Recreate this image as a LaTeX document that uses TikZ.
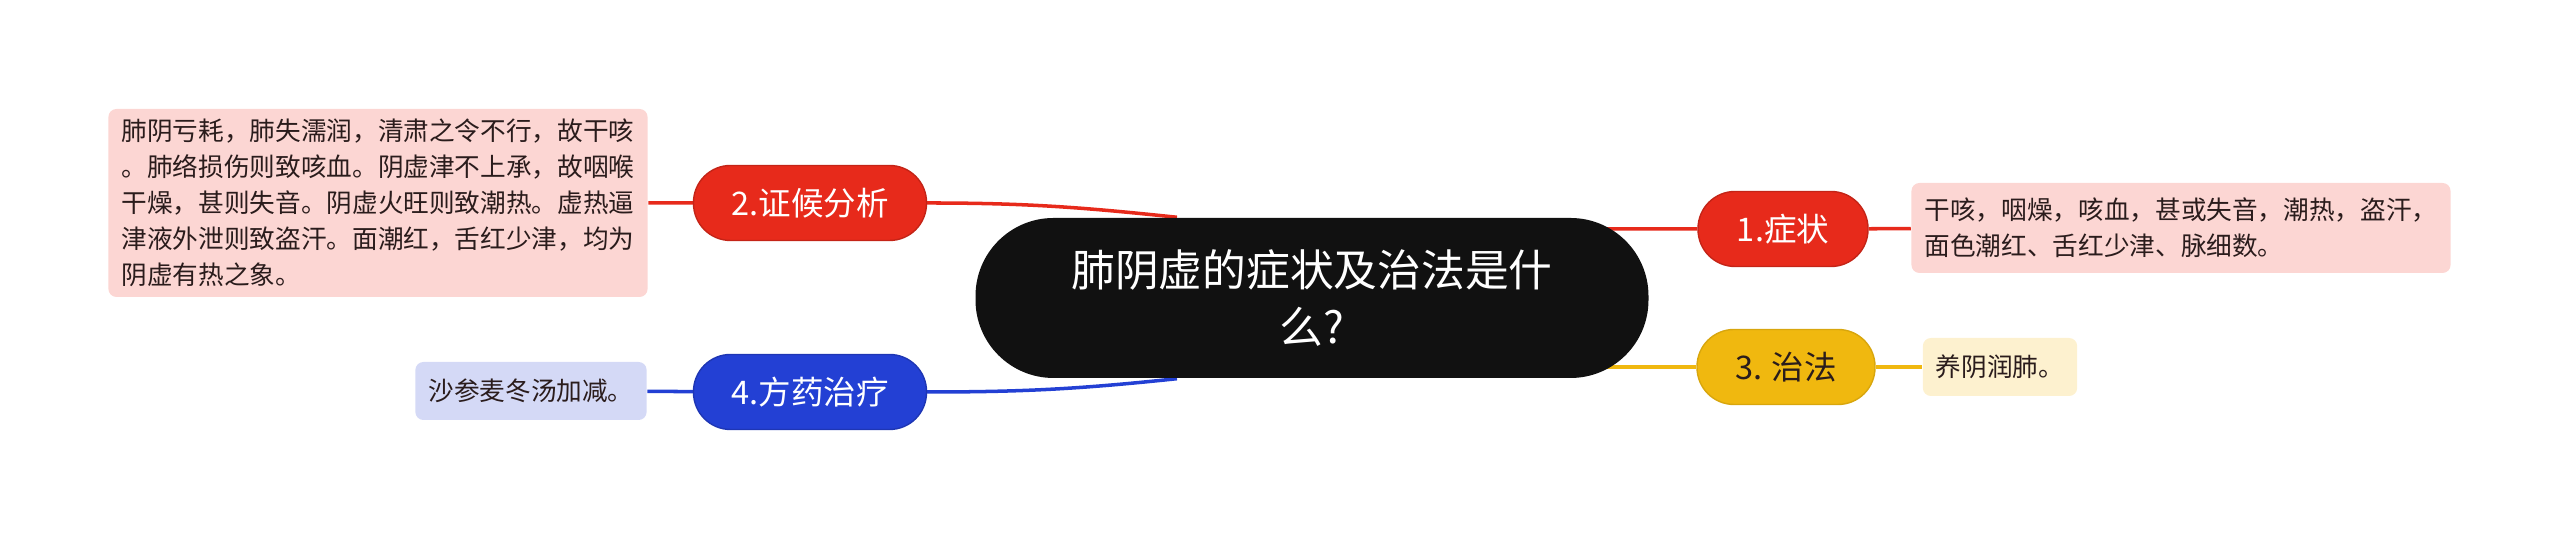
\documentclass[tikz,border=0pt]{standalone}
\usepackage{fontspec}
\setmainfont{Noto Sans CJK SC}
\usepackage{xcolor}
\usetikzlibrary{calc, positioning, backgrounds}

\definecolor{rootblack}{HTML}{111111}
\definecolor{symred}{HTML}{E72A1B}
\definecolor{sympink}{HTML}{FCD6D3}
\definecolor{cureyellow}{HTML}{F0B80F}
\definecolor{curecream}{HTML}{FDF1CF}
\definecolor{rxblue}{HTML}{2340D4}
\definecolor{rxlilac}{HTML}{D4D9F6}
\definecolor{leafink}{HTML}{2A1C1C}

\tikzset{
    topic/.style={fill=rootblack, text=white, rounded corners=0.78cm, minimum width=6.73cm, minimum height=1.6cm, inner sep=0pt, align=center, font=\fontsize{12.45}{16.2}\selectfont},
    branch/.style={rounded corners=0.37cm, minimum height=0.75cm, inner sep=0pt, line width=0.4pt, font=\fontsize{9.25}{11}\selectfont},
    leaf/.style={rounded corners=0.08cm, inner xsep=0.13cm, inner ysep=0.1cm, align=left, text=leafink, font=\fontsize{7.3}{10.24}\selectfont},
    link/.style={line width=1pt}
}

\begin{document}
\begin{tikzpicture}
                        \useasboundingbox (0, 0) rectangle (25.6, 5.41);
                        \node[topic] (root) at (13.12, 2.43) {肺阴虚的症状及治法是什\\么?};
                        \node[branch, fill=symred, draw=symred!85!black, text=white, minimum width=1.7cm] (sym) at (17.83, 3.12) {1.症状};
                        \node[branch, fill=symred, draw=symred!85!black, text=white, minimum width=2.33cm] (why) at (8.1, 3.38) {2.证候分析};
                        \node[branch, fill=cureyellow, draw=cureyellow!90!black, text=leafink, minimum width=1.78cm] (cure) at (17.86, 1.74) {3. 治法};
                        \node[branch, fill=rxblue, draw=rxblue!85!black, text=white, minimum width=2.33cm] (rx) at (8.1, 1.49) {4.方药治疗};
                        \node[leaf, fill=sympink, minimum width=5.36cm, minimum height=0.9cm] (symtext) at (21.81, 3.13) {干咳，咽燥，咳血，甚或失音，潮热，盗汗，\\面色潮红、舌红少津、脉细数。};
                        \node[leaf, fill=sympink, minimum width=5.38cm, minimum height=1.88cm] (whytext) at (3.78, 3.38) {肺阴亏耗，肺失濡润，清肃之令不行，故干咳\\。肺络损伤则致咳血。阴虚津不上承，故咽喉\\干燥，甚则失音。阴虚火旺则致潮热。虚热逼\\津液外泄则致盗汗。面潮红，舌红少津，均为\\阴虚有热之象。};
                        \node[leaf, fill=curecream, minimum width=1.54cm, minimum height=0.58cm] (curetext) at (20.0, 1.74) {养阴润肺。};
                        \node[leaf, fill=rxlilac, minimum width=2.31cm, minimum height=0.58cm] (rxtext) at (5.31, 1.5) {沙参麦冬汤加减。};
                        \coordinate (whyend) at ($(root.north)+(-1.35, 0)$);
                        \coordinate (rxend) at ($(root.south)+(-1.35, 0)$);
                        \begin{scope}[on background layer]
                        \draw[link, symred]
                        (root.center |- sym) -- (sym)
                        (sym) -- (symtext)
                        (why.east) to[out=0, in=174] (whyend)
                        (why) -- (whytext);
                        \draw[link, cureyellow]
                        (root.center |- cure) -- (cure)
                        (cure) -- (curetext);
                        \draw[link, rxblue]
                        (rx.east) to[out=0, in=186] (rxend)
                        (rx) -- (rxtext);
                        \end{scope}
                    \end{tikzpicture}
\end{document}
